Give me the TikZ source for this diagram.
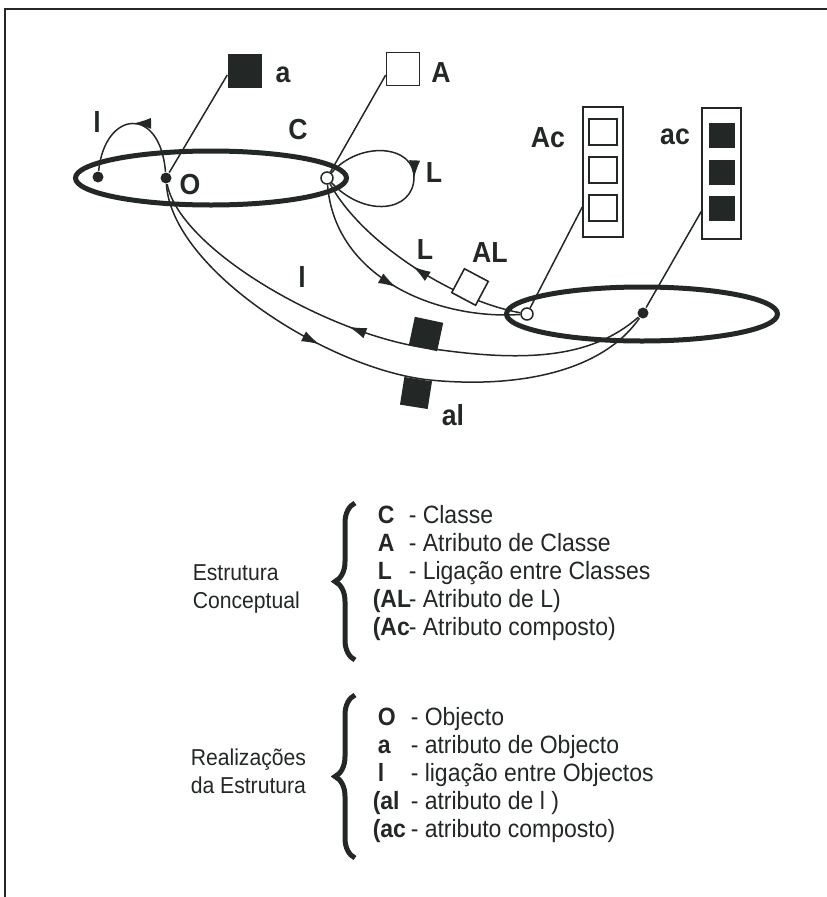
\documentclass[tikz,border=0pt]{standalone}
\usepackage{fontspec}
\setmainfont{Liberation Sans}
\newfontfamily\narrowsf[FakeStretch=0.92]{Liberation Sans}
\usetikzlibrary{arrows.meta,shapes.geometric,decorations.markings,decorations.pathreplacing}
\definecolor{ink}{RGB}{35,40,38}

\begin{document}
\begin{tikzpicture}[x=1pt,y=-1pt,color=ink,line width=1.5pt,
    lbl/.style={font=\narrowsf\bfseries\fontsize{29}{32}\selectfont,inner sep=0pt},
    key/.style={font=\narrowsf\bfseries\fontsize{25}{28}\selectfont,anchor=base west,inner sep=0pt},
    desc/.style={font=\narrowsf\fontsize{25}{28}\selectfont,anchor=base west,inner sep=0pt},
    conc/.style={font=\narrowsf\fontsize{23}{26}\selectfont,anchor=base west,inner sep=0pt},
    dot/.style={circle,fill=ink,inner sep=0pt,minimum size=11pt},
    odot/.style={circle,draw=ink,fill=white,line width=1.5pt,inner sep=0pt,minimum size=12pt},
    cls/.style={ellipse,draw=ink,line width=5pt,minimum width=271pt,minimum height=54pt,inner sep=0pt},
    osq/.style={draw=ink,fill=white,line width=1.6pt,inner sep=0pt,minimum size=#1},
    fsq/.style={fill=ink,inner sep=0pt,minimum size=#1},
    fwd/.style={postaction={decorate,decoration={markings,mark=at position #1 with {\arrow{Latex[length=18pt,width=11pt]}}}}},
    bwd/.style={postaction={decorate,decoration={markings,mark=at position #1 with {\arrowreversed{Latex[length=18pt,width=11pt]}}}}},
    cbrace/.style={decorate,decoration={brace,amplitude=20pt},line width=5pt}]
  \useasboundingbox (0,0) rectangle (827,897);
  \draw[line width=2pt] (5,897) -- (5,9) -- (827,9);

  \node[cls] (cls1) at (211,178) {};
  \node[cls] (cls2) at (642,314) {};

  \node[fsq=34pt] (sqa) at (245,71) {};
  \node[osq=33pt] (sqA) at (403,69) {};
  \node[draw,line width=1.5pt,minimum width=40pt,minimum height=130pt,inner sep=0pt] (boxAc) at (603,172) {};
  \node[draw,line width=1.5pt,minimum width=39pt,minimum height=131pt,inner sep=0pt] (boxac) at (721.5,173.5) {};
  \foreach \y [count=\i] in {132,170,208}
    \node[osq,minimum width=28pt,minimum height=26pt,line width=2pt] (sqAc\i) at (603,\y) {};
  \foreach \y [count=\i] in {135.5,172,208.5}
    \node[fsq,minimum width=26pt,minimum height=25pt] (sqac\i) at (722,\y) {};

  \node[dot] (ld) at (98,177) {};
  \node[dot] (o) at (166,178) {};
  \node[odot] (cc) at (327,178) {};
  \node[odot] (lc) at (527,314) {};
  \node[dot] (d2) at (643,313) {};

  \draw (o) -- ([yshift=-4pt]sqa.west);
  \draw (cc) -- ([yshift=-6pt]sqA.west);
  \draw (lc) -- ([yshift=-35pt]boxAc.west);
  \draw (d2) -- ([yshift=-38pt]boxac.west);

  \draw[fwd=0.5] (o) .. controls (160,105) and (105,110) .. (ld);
  \draw[fwd=0.5] (cc) .. controls (360,140) and (415,145) .. (414,178) .. controls (413,212) and (365,218) .. (cc);
  \draw[bwd=0.5] (cc) .. controls (360,240) and (450,300) .. (lc);
  \draw[fwd=0.5] (cc) .. controls (335,280) and (440,320) .. (lc);
  \draw[bwd=0.44] (o) .. controls (180,250) and (330,335) .. (427,348) .. controls (520,362) and (590,360) .. (d2);
  \draw[fwd=0.40] (o) .. controls (172,270) and (330,370) .. (430,380) .. controls (510,388) and (600,375) .. (d2);

  \node[osq=27pt,rotate=-28] (sqAL) at (470,287) {};
  \node[fsq=29pt,rotate=-12] (sqI) at (426,334) {};
  \node[fsq=28pt,rotate=-9] (sqal) at (416,393) {};

  \node[lbl] (lI) at (97,122) {l};
  \node[lbl] (lC) at (298,130) {C};
  \node[lbl] (lO) at (190,185) {O};
  \node[lbl] (la) at (283,75) {a};
  \node[lbl] (lA) at (441,73) {A};
  \node[lbl] (lL) at (434,173) {L};
  \node[lbl] (lAc) at (548,138) {Ac};
  \node[lbl] (lac) at (675,137) {ac};
  \node[lbl] (lLk) at (425,250) {L};
  \node[lbl] (lAL) at (490,253) {AL};
  \node[lbl] (lIk) at (302,277) {l};
  \node[lbl] (lal) at (453,415) {al};

  \node[conc] (conc1) at (192,580) {Estrutura};
  \node[conc] (conc2) at (192,608) {Conceptual};
  \draw[cbrace] (355,660) -- (355,503);
  \foreach \k/\x/\d [count=\i from 0] in {C/377/Classe, A/377/Atributo de Classe, L/377/Ligação entre Classes, (AL/372/Atributo de L), (Ac/372/Atributo composto)} {
    \node[key] (kc\i) at (\x,523+28*\i) {\k};
    \node[desc] (dc\i) at (408,523+28*\i) {- \d};
  }

  \node[conc] (real1) at (190,765) {Realizações};
  \node[conc] (real2) at (190,793) {da Estrutura};
  \draw[cbrace] (355,858) -- (355,695);
  \foreach \k/\x/\d [count=\i from 0] in {O/377/Objecto, a/377/atributo de Objecto, l/377/ligação entre Objectos, (al/372/atributo de l ), (ac/372/atributo composto)} {
    \node[key] (kr\i) at (\x,725+28*\i) {\k};
    \node[desc] (dr\i) at (410,725+28*\i) {- \d};
  }
\end{tikzpicture}
\end{document}
